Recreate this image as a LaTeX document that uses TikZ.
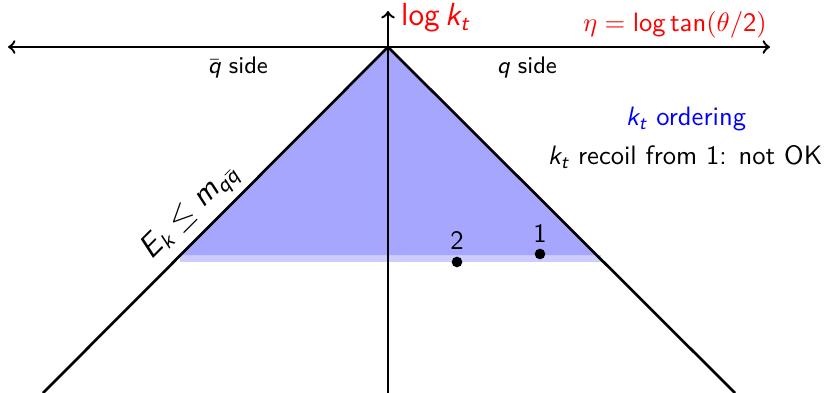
\documentclass[tikz,border=0pt]{standalone}
\usepackage{amsmath}
\renewcommand{\familydefault}{\sfdefault}
\newcommand{\mv}[1]{\text{\sffamily\slshape #1}}
\newcommand{\mup}[1]{\text{\sffamily #1}}
\newcommand{\mop}[1]{\mathop{\text{\sffamily #1}}\nolimits}
\begin{document}
\begin{tikzpicture}[x=0.376pt,y=-0.376pt,
  axis/.style={line width=0.9pt,->},
  diag/.style={line width=1pt,black},
  dot/.style={circle,fill=black,inner sep=0pt,minimum size=4pt},
  lbl/.style={inner sep=1pt,font=\sffamily}]
\useasboundingbox (0,0) rectangle (825,393);
% shading
\fill[blue!20] (180,255) rectangle (601,262);
\fill[blue!35] (388,47) -- (180,255) -- (596,255) -- cycle;
% coordinates
\coordinate (apex) at (388,47);
\coordinate (lend) at (43,393);
\coordinate (rend) at (735,393);
\coordinate (vbot) at (388,393);
\coordinate (vtop) at (388,11);
\coordinate (hl) at (8,47);
\coordinate (hr) at (770,47);
% axes
\draw[axis] (apex) -- (hl);
\draw[axis] (apex) -- (hr);
\draw[axis] (vbot) -- (vtop);
% diagonals
\draw[diag] (lend) -- (apex) node[pos=0.475,sloped,above,lbl,inner sep=2.5pt,font=\sffamily\large] {$\mv{E}_{\mv{k}} \leq \mv{m}_{\mv{q}\bar{\mv{q}}}$};
\draw[diag] (apex) -- (rend);
% labels
\node[lbl,anchor=west,text=red,font=\sffamily\large] (logkt) at (398,18) {$\mop{log} \mv{k}_{\mv{t}}$};
\node[lbl,anchor=east,text=red,font=\sffamily\normalsize] (eta) at (770,25) {$\eta = \mop{log}\mop{tan}(\theta/\mup{2})$};
\node[lbl,font=\sffamily\small] (qbar) at (238,68) {$\bar{\mv{q}}$ side};
\node[lbl,font=\sffamily\small] (q) at (527,68) {$\mv{q}$ side};
\node[lbl,text=blue] (ord) at (686,119) {$\mv{k}_{\mv{t}}$ ordering};
\node[lbl] (recoil) at (685,157) {$\mv{k}_{\mv{t}}$ recoil from 1: not OK};
% emissions
\node[dot] (d2) at (457,262) {};
\node[dot] (d1) at (540,254) {};
\node[lbl,anchor=south] (l2) at (457,253) {2};
\node[lbl,anchor=south] (l1) at (540,246) {1};
\end{tikzpicture}
\end{document}
